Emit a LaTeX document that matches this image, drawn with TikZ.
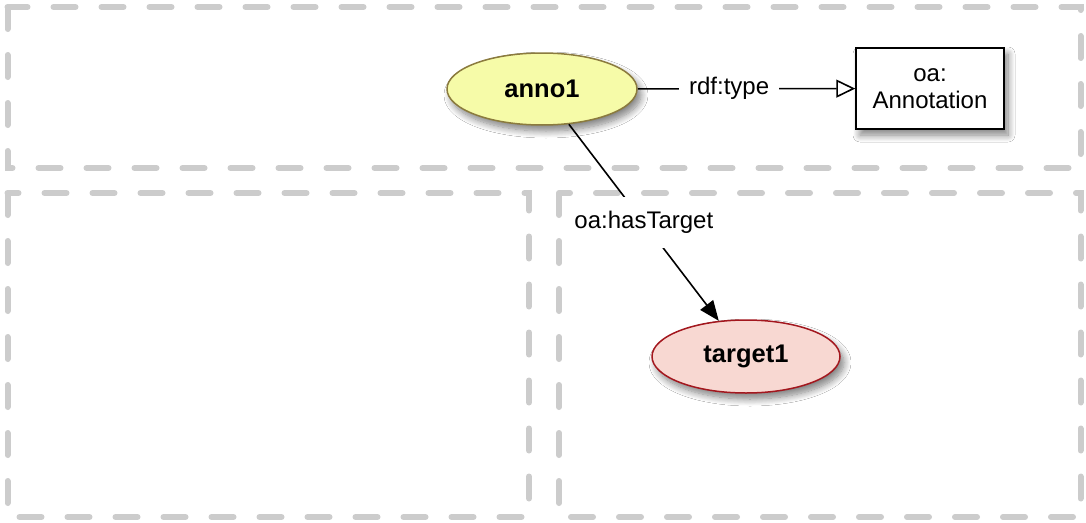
\documentclass[tikz,border=0pt]{standalone}
\usepackage{fontspec}
\setmainfont{Liberation Sans}
\usetikzlibrary{arrows.meta,shapes.geometric,shadows.blur}
\definecolor{dashgray}{HTML}{CCCCCC}
\definecolor{annofill}{HTML}{F6FBA8}
\definecolor{annodraw}{HTML}{8B7B3E}
\definecolor{targfill}{HTML}{F8D8D2}
\definecolor{targdraw}{HTML}{A3171E}
\begin{document}
\begin{tikzpicture}[x=1pt,y=-1pt,
  region/.style={draw=dashgray, line width=6pt, line cap=round, dash pattern=on 22pt off 26pt},
  softshadow/.style={blur shadow={shadow xshift=4pt, shadow yshift=-6pt, shadow blur steps=10, shadow blur radius=7pt, shadow opacity=50}},
  res/.style={ellipse, minimum width=190pt, minimum height=72pt, inner sep=0pt, line width=1.5pt,
    font=\fontsize{25.5}{30}\selectfont\bfseries, softshadow},
  classbox/.style={rectangle, draw=black, fill=white, line width=1.5pt, minimum width=148pt, minimum height=81pt,
    inner sep=0pt, align=center, font=\fontsize{24}{27}\selectfont, softshadow},
  edge/.style={draw=black, line width=1.6pt},
  lbl/.style={fill=white, font=\fontsize{24}{28}\selectfont, inner xsep=10pt, inner ysep=14pt}
]
\useasboundingbox (0,0) rectangle (1086,522);
\fill[white] (0,0) rectangle (1086,522);

% dashed regions
\draw[region] (7.5,7) rectangle (1080.5,168);
\draw[region] (7.5,193) rectangle (529,517);
\draw[region] (559,193) rectangle (1080.5,517);

% nodes
\node[res, fill=annofill, draw=annodraw] (anno1) at (542,89) {anno1};
\node[classbox] (annoclass) at (930,88.5) {oa:\\Annotation};
\node[res, fill=targfill, draw=targdraw, minimum width=188pt, minimum height=73pt] (target1) at (746,356.5) {target1};

% edges
\draw[edge, -{Triangle[open, length=19pt, width=18pt, fill=white, line width=1.6pt]}]
  (anno1) -- node[lbl, pos=0.42] {rdf:type} (annoclass);
\draw[edge, -{Triangle[length=20pt, width=16pt]}]
  (anno1) -- node[lbl] {oa:hasTarget} (target1);
\end{tikzpicture}
\end{document}
